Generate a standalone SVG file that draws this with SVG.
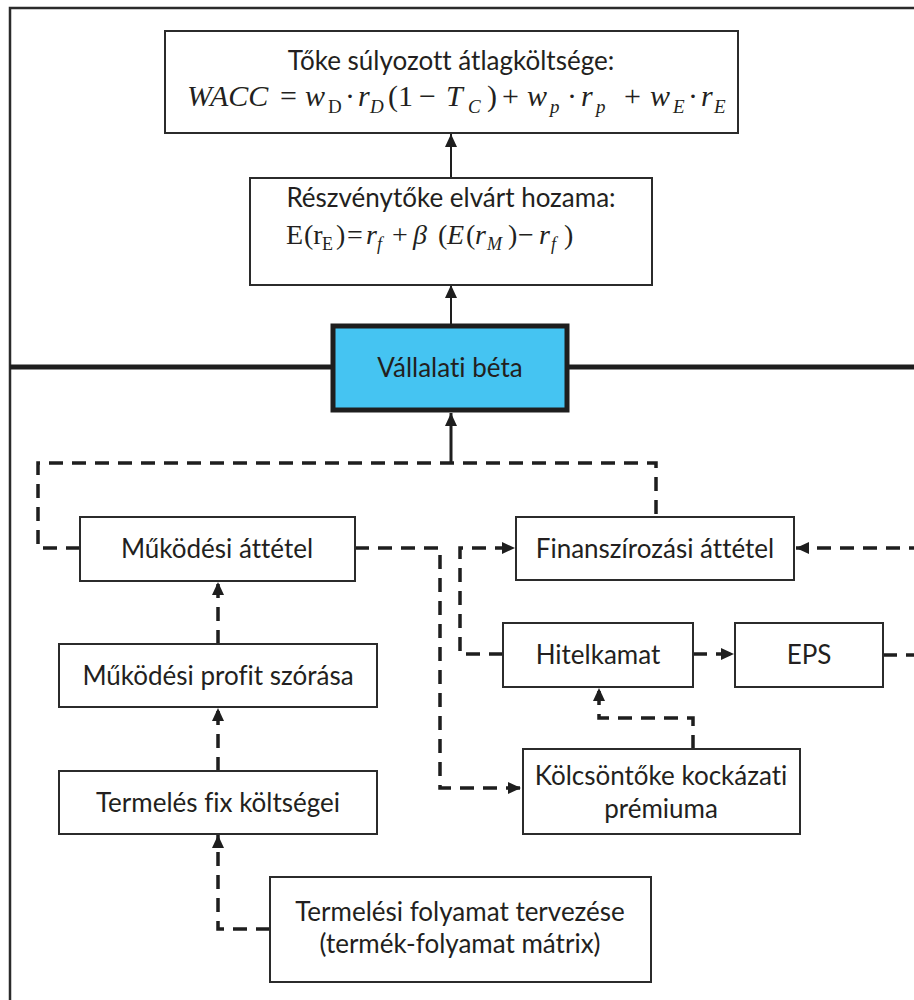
<svg xmlns="http://www.w3.org/2000/svg" width="914" height="1000" viewBox="0 0 914 1000">
<style>
.bg{fill:#ffffff}
.box{fill:#ffffff;stroke:#2b2b2b;stroke-width:2}
.beta{fill:#45c4f2;stroke:#1e1e1e;stroke-width:5}
.lbl{font-family:Lato,"Open Sans","Liberation Sans",sans-serif;font-size:26px;fill:#231f20;text-anchor:middle;font-variant-ligatures:none}
.m{font-family:"Liberation Serif","Times New Roman",serif;fill:#231f20}
.mi{font-style:italic}
.frame{fill:none;stroke:#2b2b2b;stroke-width:2.5}
.thick{stroke:#1e1e1e;stroke-width:5}
.solid{fill:none;stroke:#1e1e1e;stroke-width:2}
.dash{fill:none;stroke:#1e1e1e;stroke-width:3.5;stroke-dasharray:14 9}
</style>
<defs>
<marker id="ah" markerUnits="userSpaceOnUse" markerWidth="14" markerHeight="14" refX="13" refY="7" orient="auto">
<path d="M0,1 L13,7 L0,13 z" fill="#1e1e1e"/>
</marker>
</defs>
<rect class="bg" x="0" y="0" width="914" height="1000"/>
<g id="frame">
<path class="frame" d="M10,1002 V8 H916"/>
<line class="thick" x1="10" y1="367" x2="333" y2="367"/>
<line class="thick" x1="567" y1="367" x2="916" y2="367"/>
</g>
<g id="connectors">
<path class="solid" d="M451,178 V134" marker-end="url(#ah)"/>
<path class="solid" d="M451,324 V285" marker-end="url(#ah)"/>
<path class="solid" style="stroke-width:3" d="M451,463 V413" marker-end="url(#ah)"/>
<path class="dash" d="M80,548 H38 V463 H656 V517"/>
<path class="dash" d="M355,548 H440 V788 H521" marker-end="url(#ah)"/>
<path class="dash" d="M503,654 H460 V548 H515" marker-end="url(#ah)"/>
<path class="dash" d="M693,654 H734" marker-end="url(#ah)"/>
<path class="dash" d="M883,655 H930 V548 H796" marker-end="url(#ah)"/>
<path class="dash" d="M693,749 V718 H599 V688" marker-end="url(#ah)"/>
<path class="dash" d="M218,644 V582" marker-end="url(#ah)"/>
<path class="dash" d="M218,771 V708" marker-end="url(#ah)"/>
<path class="dash" d="M270,929 H218 V835" marker-end="url(#ah)"/>
</g>
<g id="wacc">
<rect class="box" x="165" y="31" width="573" height="102"/>
<text class="lbl" x="451" y="70">Tőke súlyozott átlagköltsége:</text>
<text class="m" font-size="30" y="106"><tspan class="mi" x="187">WACC</tspan><tspan x="280">=</tspan><tspan class="mi" x="305">w</tspan><tspan x="328" y="113" font-size="19">D</tspan><tspan x="345" y="106">·</tspan><tspan class="mi" x="358">r</tspan><tspan class="mi" x="370" y="113" font-size="19">D</tspan><tspan x="388" y="106">(1</tspan><tspan x="419">−</tspan><tspan class="mi" x="446">T</tspan><tspan class="mi" x="468" y="113" font-size="19">C</tspan><tspan x="487" y="106">)</tspan><tspan x="502">+</tspan><tspan class="mi" x="527">w</tspan><tspan class="mi" x="550" y="113" font-size="19">p</tspan><tspan x="567" y="106">·</tspan><tspan class="mi" x="581">r</tspan><tspan class="mi" x="596" y="113" font-size="19">p</tspan><tspan x="624" y="106">+</tspan><tspan class="mi" x="650">w</tspan><tspan class="mi" x="673" y="113" font-size="19">E</tspan><tspan x="688" y="106">·</tspan><tspan class="mi" x="701">r</tspan><tspan class="mi" x="714" y="113" font-size="19">E</tspan></text>
</g>
<g id="capm">
<rect class="box" x="250" y="178" width="402" height="107"/>
<text class="lbl" x="451" y="207">Részvénytőke elvárt hozama:</text>
<text class="m" font-size="28" y="244"><tspan x="286">E</tspan><tspan x="304">(r</tspan><tspan x="322" y="250" font-size="18">E</tspan><tspan x="336" y="244">)</tspan><tspan x="347">=</tspan><tspan class="mi" x="366">r</tspan><tspan class="mi" x="377" y="250" font-size="18">f</tspan><tspan x="392" y="244">+</tspan><tspan class="mi" x="413">β</tspan><tspan x="438">(</tspan><tspan class="mi" x="447">E</tspan><tspan x="466">(</tspan><tspan class="mi" x="475">r</tspan><tspan class="mi" x="487" y="250" font-size="18">M</tspan><tspan x="508" y="244">)</tspan><tspan x="518">−</tspan><tspan class="mi" x="539">r</tspan><tspan class="mi" x="551" y="250" font-size="18">f</tspan><tspan x="564" y="244">)</tspan></text>
</g>
<g id="beta">
<rect class="beta" x="333" y="326" width="234" height="84"/>
<text class="lbl" x="450" y="377">Vállalati béta</text>
</g>
<g id="mukodesi-attetel">
<rect class="box" x="80" y="517" width="275" height="64"/>
<text class="lbl" x="217" y="558">Működési áttétel</text>
</g>
<g id="finanszirozasi-attetel">
<rect class="box" x="516" y="517" width="278" height="63"/>
<text class="lbl" x="655" y="558">Finanszírozási áttétel</text>
</g>
<g id="hitelkamat">
<rect class="box" x="503" y="623" width="190" height="64"/>
<text class="lbl" x="598" y="664">Hitelkamat</text>
</g>
<g id="eps">
<rect class="box" x="735" y="623" width="148" height="64"/>
<text class="lbl" x="809" y="664">EPS</text>
</g>
<g id="profit-szorasa">
<rect class="box" x="59" y="644" width="318" height="63"/>
<text class="lbl" x="218" y="685">Működési profit szórása</text>
</g>
<g id="kolcsontoke">
<rect class="box" x="523" y="749" width="277" height="85"/>
<text class="lbl" x="661" y="785">Kölcsöntőke kockázati</text>
<text class="lbl" x="661" y="818">prémiuma</text>
</g>
<g id="fix-koltsegei">
<rect class="box" x="59" y="771" width="318" height="63"/>
<text class="lbl" x="218" y="812">Termelés fix költségei</text>
</g>
<g id="termelesi-folyamat">
<rect class="box" x="270" y="877" width="381" height="105"/>
<text class="lbl" x="460" y="921">Termelési folyamat tervezése</text>
<text class="lbl" x="460" y="953">(termék-folyamat mátrix)</text>
</g>
</svg>
